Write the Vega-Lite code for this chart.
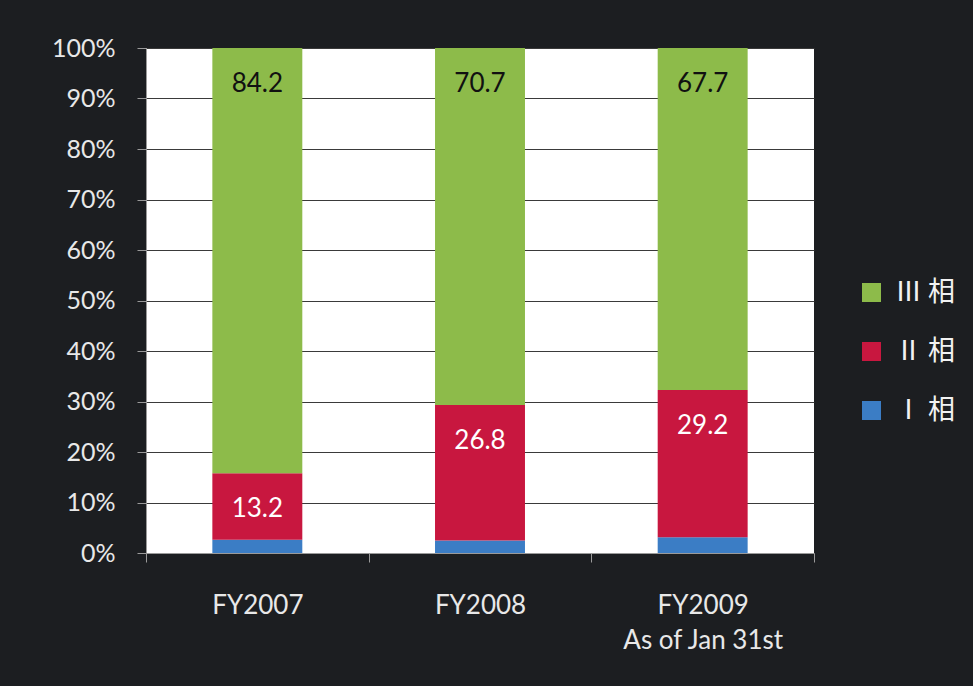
{
  "$schema": "https://vega.github.io/schema/vega-lite/v6.json",
  "width": 668,
  "height": 505,
  "autosize": {"type": "none"},
  "padding": {"left": 146, "top": 48, "right": 159, "bottom": 133},
  "background": "#1c1e21",
  "config": {"view": {"fill": "white", "stroke": null}, "font": "Lato"},
  "data": {
    "values": [
      {"year": "FY2007", "phase": "Ⅰ 相", "rank": 1, "pct": 2.6},
      {"year": "FY2007", "phase": "Ⅱ 相", "rank": 2, "pct": 13.2},
      {"year": "FY2007", "phase": "Ⅲ 相", "rank": 3, "pct": 84.2},
      {"year": "FY2008", "phase": "Ⅰ 相", "rank": 1, "pct": 2.5},
      {"year": "FY2008", "phase": "Ⅱ 相", "rank": 2, "pct": 26.8},
      {"year": "FY2008", "phase": "Ⅲ 相", "rank": 3, "pct": 70.7},
      {"year": "FY2009|As of Jan 31st", "phase": "Ⅰ 相", "rank": 1, "pct": 3.1},
      {"year": "FY2009|As of Jan 31st", "phase": "Ⅱ 相", "rank": 2, "pct": 29.2},
      {"year": "FY2009|As of Jan 31st", "phase": "Ⅲ 相", "rank": 3, "pct": 67.7}
    ]
  },
  "encoding": {
    "x": {
      "field": "year",
      "type": "nominal",
      "sort": null,
      "scale": {"paddingInner": 0, "paddingOuter": 0},
      "axis": {
        "title": null,
        "labelAngle": 0,
        "labelExpr": "split(datum.label, '|')",
        "labelFontSize": 26,
        "labelColor": "#e8e8e8",
        "labelPadding": 30,
        "labelLineHeight": 35,
        "tickSize": 9,
        "tickBand": "extent",
        "tickColor": "#9a9a9a",
        "domainColor": "#9a9a9a"
      }
    }
  },
  "layer": [
    {
      "mark": {"type": "bar", "width": {"band": 0.404}},
      "encoding": {
        "y": {
          "field": "pct",
          "type": "quantitative",
          "stack": "zero",
          "scale": {"domain": [0, 100]},
          "axis": {
            "title": null,
            "values": [0, 10, 20, 30, 40, 50, 60, 70, 80, 90, 100],
            "labelExpr": "datum.value + '%'",
            "labelFontSize": 25,
            "labelColor": "#e8e8e8",
            "labelPadding": 22,
            "tickSize": 9,
            "tickColor": "#9a9a9a",
            "domainColor": "#9a9a9a",
            "grid": true,
            "gridColor": "#3a3a3a",
            "gridWidth": 1
          }
        },
        "color": {
          "field": "phase",
          "type": "nominal",
          "scale": {
            "domain": ["Ⅲ 相", "Ⅱ 相", "Ⅰ 相"],
            "range": ["#8dbb4a", "#c8173f", "#3b7dc5"]
          },
          "legend": {
            "title": null,
            "orient": "none",
            "legendX": 712,
            "legendY": 231,
            "padding": 0,
            "symbolType": "square",
            "symbolSize": 361,
            "symbolStrokeWidth": 0,
            "labelFont": "Noto Sans CJK JP",
            "labelFontSize": 27,
            "labelColor": "#f2f2f2",
            "labelOffset": 10,
            "rowPadding": 31
          }
        },
        "order": {"field": "rank", "type": "quantitative"}
      }
    },
    {
      "mark": {"type": "text", "fontSize": 26, "dy": 36, "baseline": "middle"},
      "encoding": {
        "y": {"field": "pct", "type": "quantitative", "stack": "zero"},
        "order": {"field": "rank", "type": "quantitative"},
        "text": {"field": "pct", "type": "quantitative", "format": ".1f"},
        "fill": {
          "condition": [
            {"test": "datum.phase === 'Ⅰ 相'", "value": "transparent"},
            {"test": "datum.phase === 'Ⅲ 相'", "value": "#111111"}
          ],
          "value": "#ffffff"
        }
      }
    }
  ]
}
